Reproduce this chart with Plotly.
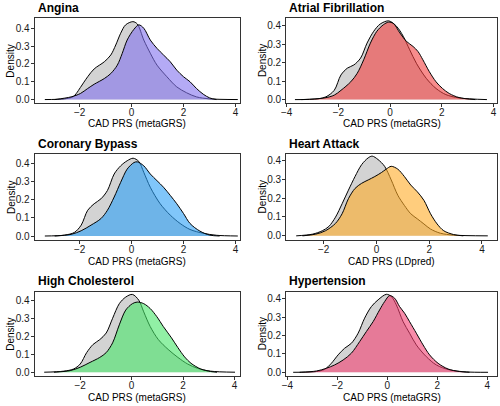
import plotly.graph_objects as go

# ---------------- data ----------------
titles = ["Angina", "Atrial Fibrillation", "Coronary Bypass",
          "Heart Attack", "High Cholesterol", "Hypertension"]
xlabels = ["CAD PRS (metaGRS)", "CAD PRS (metaGRS)", "CAD PRS (metaGRS)",
           "CAD PRS (LDpred)", "CAD PRS (metaGRS)", "CAD PRS (metaGRS)"]
x_ticks = [-4, -2, 0, 2, 4]
y_ticks = [0.0, 0.1, 0.2, 0.3, 0.4]

# Angina
angina_ctrl_x = [-3.34, -2.58, -2.26, -2.13, -1.97, -1.69, -1.44, -1.05, -0.8, -0.61, -0.42, -0.23, 0.05, 0.22, 0.47, 0.72, 0.98, 1.36, 1.74, 2.12, 2.5, 3.0, 4.09]
angina_ctrl_y = [0.0, 0.004, 0.015, 0.034, 0.068, 0.128, 0.172, 0.212, 0.25, 0.306, 0.372, 0.419, 0.437, 0.424, 0.334, 0.26, 0.193, 0.128, 0.071, 0.038, 0.015, 0.004, 0.0]
angina_case_x = [-2.96, -2.33, -1.97, -1.69, -1.44, -1.05, -0.8, -0.55, -0.36, -0.17, 0.09, 0.28, 0.47, 0.72, 0.98, 1.23, 1.49, 1.74, 2.0, 2.25, 2.5, 2.76, 3.01, 3.27]
angina_case_y = [0.0, 0.015, 0.034, 0.062, 0.086, 0.118, 0.146, 0.193, 0.259, 0.334, 0.394, 0.419, 0.4, 0.334, 0.287, 0.25, 0.212, 0.165, 0.128, 0.1, 0.062, 0.03, 0.009, 0.0]

# Atrial Fibrillation
af_ctrl_x = [-3.68, -2.79, -2.48, -2.16, -1.9, -1.65, -1.4, -1.14, -0.89, -0.63, -0.38, -0.05, 0.25, 0.51, 0.76, 1.02, 1.4, 1.78, 2.16, 2.67, 3.75]
af_ctrl_y = [0.0, 0.004, 0.015, 0.05, 0.133, 0.17, 0.187, 0.224, 0.305, 0.369, 0.408, 0.425, 0.396, 0.342, 0.269, 0.196, 0.115, 0.06, 0.027, 0.009, 0.0]
af_case_x = [-3.43, -2.54, -2.16, -1.9, -1.52, -1.27, -1.02, -0.76, -0.51, -0.25, -0.06, 0.13, 0.38, 0.63, 0.89, 1.08, 1.27, 1.52, 1.78, 2.03, 2.29, 2.67, 3.3]
af_case_y = [0.0, 0.009, 0.024, 0.05, 0.096, 0.142, 0.215, 0.305, 0.369, 0.405, 0.418, 0.411, 0.36, 0.315, 0.287, 0.26, 0.215, 0.151, 0.096, 0.06, 0.033, 0.011, 0.0]

# Coronary Bypass
cb_ctrl_x = [-3.34, -2.58, -2.2, -1.94, -1.69, -1.44, -1.18, -0.93, -0.67, -0.42, -0.17, 0.06, 0.28, 0.47, 0.72, 1.1, 1.49, 1.87, 2.25, 2.76, 3.27, 4.09]
cb_ctrl_y = [0.0, 0.005, 0.02, 0.06, 0.142, 0.178, 0.205, 0.251, 0.342, 0.387, 0.415, 0.429, 0.411, 0.351, 0.269, 0.178, 0.115, 0.069, 0.036, 0.015, 0.004, 0.0]
cb_case_x = [-2.96, -2.33, -1.94, -1.56, -1.18, -0.93, -0.67, -0.42, -0.17, 0.09, 0.22, 0.47, 0.72, 0.98, 1.23, 1.49, 1.74, 2.0, 2.25, 2.63, 3.01, 3.39]
cb_case_y = [0.0, 0.009, 0.029, 0.06, 0.096, 0.142, 0.215, 0.296, 0.369, 0.405, 0.409, 0.387, 0.342, 0.305, 0.269, 0.224, 0.178, 0.124, 0.069, 0.027, 0.005, 0.0]

# Heart Attack
ha_ctrl_x = [-3.04, -2.42, -2.05, -1.8, -1.55, -1.3, -1.06, -0.81, -0.56, -0.31, -0.16, 0.06, 0.31, 0.56, 0.81, 1.06, 1.3, 1.55, 1.8, 2.05, 2.42, 2.92, 4.22]
ha_ctrl_y = [0.0, 0.009, 0.027, 0.05, 0.099, 0.17, 0.242, 0.314, 0.377, 0.413, 0.422, 0.404, 0.368, 0.296, 0.215, 0.161, 0.117, 0.09, 0.063, 0.036, 0.014, 0.004, 0.0]
ha_case_x = [-2.8, -2.3, -1.93, -1.55, -1.3, -1.06, -0.81, -0.56, -0.31, -0.06, 0.19, 0.37, 0.56, 0.81, 1.06, 1.3, 1.55, 1.8, 2.05, 2.3, 2.55, 2.92, 3.29]
ha_case_y = [0.0, 0.009, 0.027, 0.066, 0.117, 0.197, 0.251, 0.278, 0.296, 0.314, 0.335, 0.353, 0.368, 0.353, 0.314, 0.269, 0.233, 0.188, 0.117, 0.063, 0.027, 0.007, 0.0]

# High Cholesterol
hc_ctrl_x = [-3.4, -2.64, -2.26, -2.0, -1.75, -1.5, -1.24, -0.99, -0.74, -0.48, -0.23, 0.03, 0.28, 0.47, 0.72, 1.04, 1.42, 1.8, 2.18, 2.56, 3.07, 4.02]
hc_ctrl_y = [0.0, 0.006, 0.018, 0.046, 0.11, 0.156, 0.183, 0.22, 0.303, 0.385, 0.422, 0.437, 0.404, 0.339, 0.257, 0.183, 0.128, 0.083, 0.046, 0.022, 0.006, 0.0]
hc_case_x = [-3.02, -2.39, -2.0, -1.62, -1.24, -0.99, -0.74, -0.48, -0.23, 0.03, 0.22, 0.47, 0.72, 0.98, 1.23, 1.55, 1.8, 2.06, 2.31, 2.69, 3.07, 3.32]
hc_case_y = [0.0, 0.009, 0.028, 0.055, 0.083, 0.11, 0.165, 0.266, 0.349, 0.385, 0.394, 0.385, 0.358, 0.312, 0.257, 0.193, 0.138, 0.086, 0.05, 0.018, 0.004, 0.0]

# Hypertension
ht_ctrl_x = [-3.77, -2.84, -2.51, -2.24, -1.97, -1.71, -1.44, -1.17, -0.91, -0.64, -0.37, -0.04, 0.16, 0.36, 0.63, 0.89, 1.16, 1.56, 1.96, 2.49, 3.16, 4.03]
ht_ctrl_y = [0.0, 0.004, 0.016, 0.049, 0.095, 0.131, 0.158, 0.213, 0.295, 0.358, 0.395, 0.425, 0.413, 0.367, 0.276, 0.213, 0.149, 0.085, 0.04, 0.013, 0.002, 0.0]
ht_case_x = [-3.51, -2.84, -2.44, -2.11, -1.77, -1.44, -1.11, -0.84, -0.57, -0.31, -0.11, 0.09, 0.29, 0.49, 0.69, 0.89, 1.16, 1.43, 1.69, 2.03, 2.43, 2.89, 3.29]
ht_case_y = [0.0, 0.007, 0.022, 0.04, 0.067, 0.104, 0.167, 0.222, 0.276, 0.34, 0.385, 0.418, 0.404, 0.358, 0.322, 0.276, 0.213, 0.149, 0.095, 0.049, 0.018, 0.004, 0.0]

ctrl_x = [angina_ctrl_x, af_ctrl_x, cb_ctrl_x, ha_ctrl_x, hc_ctrl_x, ht_ctrl_x]
ctrl_y = [angina_ctrl_y, af_ctrl_y, cb_ctrl_y, ha_ctrl_y, hc_ctrl_y, ht_ctrl_y]
case_x = [angina_case_x, af_case_x, cb_case_x, ha_case_x, hc_case_x, ht_case_x]
case_y = [angina_case_y, af_case_y, cb_case_y, ha_case_y, hc_case_y, ht_case_y]

# ---------------- styling ----------------
case_colors = ["rgba(130,113,238,0.6)", "rgba(243,63,63,0.6)", "rgba(43,160,247,0.6)",
               "rgba(255,172,38,0.6)", "rgba(72,230,105,0.6)", "rgba(243,63,113,0.6)"]
ctrl_fill = "rgb(211,211,211)"
x_ranges = [[-3.73, 4.16], [-4.02, 4.14], [-3.73, 4.16],
            [-3.42, 4.57], [-3.77, 4.2], [-4.05, 4.39]]
y_ranges = [[-0.022, 0.458], [-0.021, 0.441], [-0.021, 0.451],
            [-0.021, 0.432], [-0.022, 0.453], [-0.021, 0.44]]

W, H = 500, 406
col_px = [(30, 237), (284, 497)]
row_px = [(18, 104), (155, 241), (293, 378)]
title_y = [8, 145, 282]
xtitle_y = [124, 263, 399]
ylab_x = [6, 260]

FONT = "Liberation Sans, Arial, Helvetica, sans-serif"

fig = go.Figure()
layout = dict(width=W, height=H, margin=dict(l=0, r=0, t=0, b=0),
              paper_bgcolor="white", plot_bgcolor="white",
              font=dict(family=FONT, size=10, color="#1a1a1a"),
              showlegend=False, annotations=[])

for i in range(6):
    r, c = divmod(i, 2)
    sfx = "" if i == 0 else str(i + 1)
    line = dict(color="black", width=1, shape="spline", smoothing=0.9)
    fig.add_trace(go.Scatter(x=ctrl_x[i], y=ctrl_y[i], xaxis="x" + sfx, yaxis="y" + sfx,
                             mode="lines", line=line, fill="tozeroy", fillcolor=ctrl_fill,
                             hoverinfo="skip"))
    fig.add_trace(go.Scatter(x=case_x[i], y=case_y[i], xaxis="x" + sfx, yaxis="y" + sfx,
                             mode="lines", line=line, fill="tozeroy", fillcolor=case_colors[i],
                             hoverinfo="skip"))
    x0, x1 = col_px[c]
    y0, y1 = row_px[r]
    common = dict(showline=True, mirror=True, linecolor="#333333", linewidth=1,
                  ticks="outside", ticklen=3, tickcolor="#333333", tickwidth=1,
                  showgrid=False, zeroline=False,
                  tickfont=dict(size=10, color="#1a1a1a", family=FONT))
    layout["xaxis" + sfx] = dict(domain=[x0 / W, x1 / W], range=x_ranges[i],
                                 anchor="y" + sfx, tickvals=x_ticks,
                                 ticklabelstandoff=-3, **common)
    layout["yaxis" + sfx] = dict(domain=[1 - y1 / H, 1 - y0 / H], range=y_ranges[i],
                                 anchor="x" + sfx, tickvals=y_ticks, tickformat=".1f",
                                 ticklabelstandoff=-1, **common)
    layout["annotations"] += [
        dict(text="<b>" + titles[i] + "</b>", x=(x0 + 1) / W, y=1 - title_y[r] / H,
             xref="paper", yref="paper", xanchor="left", yanchor="middle",
             showarrow=False, font=dict(size=12, color="black", family=FONT)),
        dict(text=xlabels[i], x=(x0 + x1) / 2 / W, y=1 - xtitle_y[r] / H,
             xref="paper", yref="paper", xanchor="center", yanchor="middle",
             showarrow=False, font=dict(size=10, color="black", family=FONT)),
        dict(text="Density", x=ylab_x[c] / W, y=1 - (y0 + y1) / 2 / H, textangle=-90,
             xref="paper", yref="paper", xanchor="center", yanchor="middle",
             showarrow=False, font=dict(size=10, color="black", family=FONT)),
    ]

fig.update_layout(**layout)
fig.write_html("out.html", config={"displayModeBar": False, "staticPlot": True},
               post_script="document.body.style.margin='0px';")
